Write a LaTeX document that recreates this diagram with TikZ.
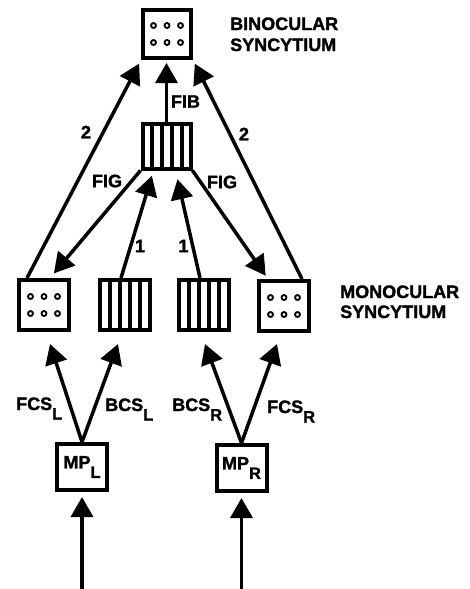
\documentclass[tikz,border=0pt]{standalone}
\usepackage{fontspec}
\setmainfont{Liberation Sans}[BoldFeatures={FakeBold=1.6}]
\usetikzlibrary{arrows.meta}
\newcommand{\lowsub}[1]{\raisebox{-9.5pt}{\fontsize{16.5}{16.5}\selectfont #1}}
\begin{document}
\begin{tikzpicture}[x=1pt,y=1pt,
  box/.style={draw,line width=4pt,inner sep=0pt,minimum width=50pt,minimum height=50pt},
  conn/.style={line width=3.5pt,-{Triangle[length=20pt,width=22pt]}},
  lab/.style={font=\fontsize{18}{20}\selectfont\bfseries,inner sep=0pt},
  dotc/.style={line width=1.8pt},
  stripe/.style={line width=4pt}]
\useasboundingbox (0,0) rectangle (469,-589);

% boxes
\node[box,minimum width=48pt,minimum height=48pt] (top) at (167,-34) {};
\node[box,minimum width=48pt,minimum height=45pt] (mid) at (166.5,-146) {};
\node[box] (m1) at (44,-305) {};
\node[box] (m2) at (125,-305) {};
\node[box] (m3) at (204,-305) {};
\node[box] (m4) at (284,-306) {};
\node[box,minimum height=46pt,lab] (MPL) at (82,-467) {MP\lowsub{L}};
\node[box,minimum height=46pt,lab] (MPR) at (241.5,-468) {MP\lowsub{R}};

% dots
\foreach \n in {top,m1,m4}
  \foreach \dx in {-13.5,0,13.5}
    \foreach \dy in {-8.5,8.5}
      \draw[dotc] ([shift={(\dx,\dy)}]\n.center) circle[radius=2.5pt];

% stripes
\foreach \n in {mid,m2,m3}
  \foreach \dx in {-15,-5,5,15}
    \draw[stripe] ([xshift=\dx pt]\n.north) -- ([xshift=\dx pt]\n.south);

% input coordinates
\coordinate (inL) at (82,-589);
\coordinate (inR) at (241.5,-589);

% connectors
\draw[conn,shorten >=3pt] (mid.north) -- (mid.north |- top.south);
\draw[conn,shorten >=4pt] ([xshift=-17pt]m1.north) -- (top.south west);
\draw[conn,shorten >=4pt] ([xshift=18pt]m4.north) -- (top.south east);
\draw[conn,shorten >=6pt] (mid.south west) -- ([xshift=6pt]m1.north);
\draw[conn,shorten >=4pt] (mid.south east) -- ([xshift=-16pt]m4.north);
\draw[conn,shorten >=5.5pt] ([xshift=-4pt]m2.north) -- ([xshift=-13pt]mid.south);
\draw[conn,shorten >=9pt] ([xshift=-4pt]m3.north) -- ([xshift=9pt]mid.south);
\draw[conn] (MPL.north) -- ([xshift=6pt,yshift=-12pt]m1.south);
\draw[conn] (MPL.north) -- ([xshift=-7pt,yshift=-12pt]m2.south);
\draw[conn] (MPR.north) -- ([xshift=1pt,yshift=-12pt]m3.south);
\draw[conn] (MPR.north) -- ([xshift=-7pt,yshift=-11pt]m4.south);
\draw[conn,shorten >=5pt] (inL) -- (MPL.south);
\draw[conn,shorten >=5pt] (inR) -- (MPR.south);

% labels
\node[lab] (l2a) at (86,-132) {2};
\node[lab] (l2b) at (244,-134) {2};
\node[lab] (lfiga) at (107,-181) {FIG};
\node[lab] (lfigb) at (222,-182) {FIG};
\node[lab] (lfib) at (185.5,-101.5) {FIB};
\node[lab] (l1a) at (140,-246) {1};
\node[lab] (l1b) at (183.5,-246) {1};
\node[lab,anchor=base west] (lfcsl) at (16,-410) {FCS\lowsub{L}};
\node[lab,anchor=base west] (lbcsl) at (105,-411) {BCS\lowsub{L}};
\node[lab,anchor=base west] (lbcsr) at (172,-411) {BCS\lowsub{R}};
\node[lab,anchor=base west] (lfcsr) at (267,-413) {FCS\lowsub{R}};
\node[lab,anchor=base west] (bin1) at (230,-30) {BINOCULAR};
\node[lab,anchor=base west] (bin2) at (230,-51) {SYNCYTIUM};
\node[lab,anchor=base west] (mon1) at (340,-298) {MONOCULAR};
\node[lab,anchor=base west] (mon2) at (340,-318) {SYNCYTIUM};
\end{tikzpicture}
\end{document}
